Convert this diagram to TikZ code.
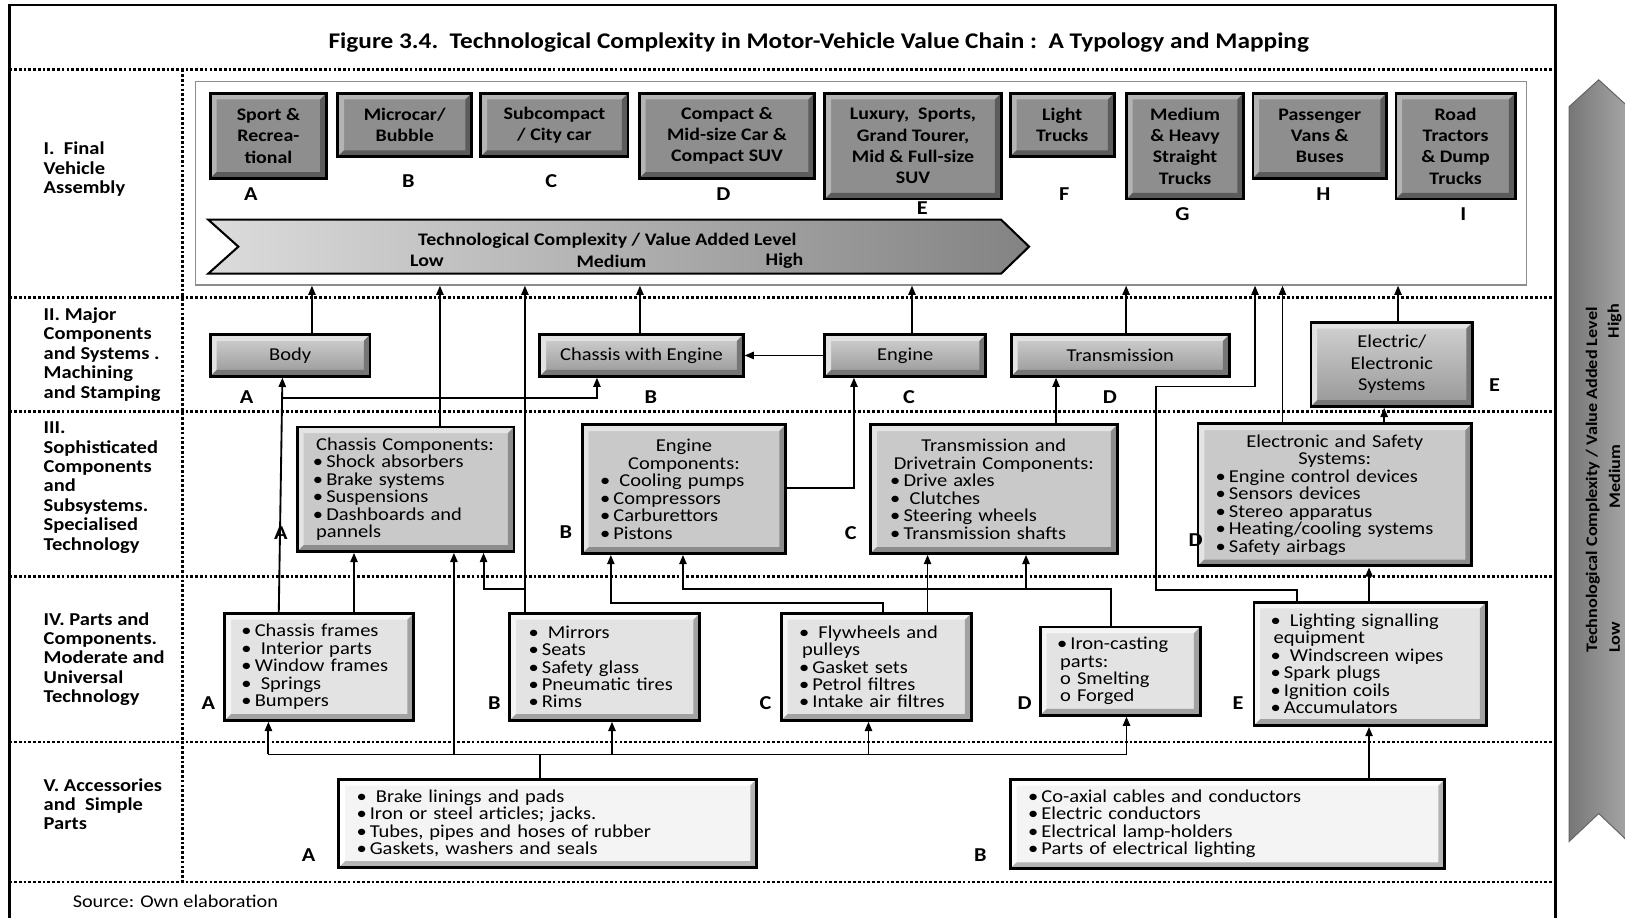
\documentclass[tikz,border=0pt]{standalone}
\usepackage{fontspec}
\setmainfont{Carlito}[FakeStretch=1.13]
\usetikzlibrary{arrows.meta}
\lineskiplimit=-100pt
\lineskip=0pt
\hyphenpenalty=10000
\exhyphenpenalty=10000
\newcommand\mc[1]{\noindent\hbox to\hsize{\hfil#1\hfil}}
\newcommand\bu{\noindent\kern-3pt•\kern3pt}
\definecolor{cIf}{HTML}{8E8E8E}
\definecolor{cIl}{HTML}{B4B4B4}
\definecolor{cId}{HTML}{5C5C5C}
\definecolor{cIIt}{HTML}{D2D2D2}
\definecolor{cIIb}{HTML}{979797}
\definecolor{cIIl}{HTML}{E2E2E2}
\definecolor{cIId}{HTML}{767676}
\definecolor{cIIIf}{HTML}{C9C9C9}
\definecolor{cIIIl}{HTML}{E4E4E4}
\definecolor{cIIId}{HTML}{8C8C8C}
\definecolor{cIVf}{HTML}{E3E3E3}
\definecolor{cIVl}{HTML}{F5F5F5}
\definecolor{cIVd}{HTML}{A2A2A2}
\definecolor{cVf}{HTML}{F4F4F4}
\definecolor{cVl}{HTML}{FFFFFF}
\definecolor{cVd}{HTML}{B4B4B4}
\definecolor{bnL}{HTML}{DCDCDC}
\definecolor{bnR}{HTML}{838383}
\definecolor{vaL}{HTML}{777777}
\definecolor{vaM}{HTML}{E6E6E6}
\definecolor{vaR}{HTML}{A6A6A6}
\tikzset{
  bevel/.style 2 args={path picture={
    \path (path picture bounding box.north west) coordinate (bnw)
          (path picture bounding box.north east) coordinate (bne)
          (path picture bounding box.south west) coordinate (bsw)
          (path picture bounding box.south east) coordinate (bse);
    \fill[#1] (bnw) -- (bne) -- ([shift={(-6pt,-6pt)}]bne) -- ([shift={(6pt,-6pt)}]bnw) -- ([shift={(6pt,6pt)}]bsw) -- (bsw) -- cycle;
    \fill[#2] (bse) -- (bsw) -- ([shift={(6pt,6pt)}]bsw) -- ([shift={(-6pt,6pt)}]bse) -- ([shift={(-6pt,-6pt)}]bne) -- (bne) -- cycle;
  }},
  bx/.style={draw=black, line width=2.8pt, inner sep=0pt},
  boxI/.style={bx, fill=cIf, bevel={cIl}{cId}, align=center, font=\bfseries\fontsize{17}{20.5}\selectfont},
  boxII/.style={bx, top color=cIIt, bottom color=cIIb, bevel={cIIl}{cIId}, align=center, font=\fontsize{17.5}{20.5}\selectfont},
  boxIII/.style={bx, fill=cIIIf, bevel={cIIIl}{cIIId}, align=left, font=\fontsize{17.5}{16.9}\selectfont},
  boxIV/.style={bx, fill=cIVf, bevel={cIVl}{cIVd}, align=left, font=\fontsize{17.5}{16.8}\selectfont},
  boxV/.style={bx, fill=cVf, bevel={cVl}{cVd}, align=left, font=\fontsize{17.5}{16.7}\selectfont},
  ttl/.style={font=\bfseries\fontsize{21.6}{24}\selectfont, inner sep=0pt},
  lett/.style={font=\bfseries\fontsize{19}{20}\selectfont, inner sep=0pt},
  rowlab/.style={font=\bfseries\fontsize{17.5}{18.7}\selectfont, align=left, anchor=west, inner sep=0pt},
  srcl/.style={font=\fontsize{17.3}{18}\selectfont, anchor=west, inner sep=0pt},
  bant/.style={font=\bfseries\fontsize{17}{18}\selectfont, inner sep=0pt},
  vtxt/.style={font=\bfseries\fontsize{15.5}{16}\selectfont, inner sep=0pt, rotate=90},
  dotl/.style={line width=2.6pt, dash pattern=on 2.6pt off 2pt},
  ln/.style={line width=1.8pt},
  arr/.style={line width=1.8pt, -{Triangle[length=9pt,width=7pt]}},
}
\begin{document}
\begin{tikzpicture}[x=1pt,y=-1pt]
\useasboundingbox (0,0) rectangle (1568,885);
\clip (0,0) rectangle (1568,885);
% dotted grid
\foreach \yy in {67,287,397,556,716,851} \draw[dotl] (9,\yy) -- (1501,\yy);
\draw[dotl] (176,67) -- (176,851);
% frame
\draw[line width=2.6pt] (9,895) -- (9,4.8) -- (1501,4.8) -- (1501,895);
% title
\node[ttl] (title) at (790,41.5) {Figure 3.4.\ \ Technological Complexity in Motor-Vehicle Value Chain :\ \ A Typology and Mapping};
% row labels
\node[rowlab] (lab1) at (42,163.5) {I.\ \ Final\\Vehicle\\Assembly};
\node[rowlab] (lab2) at (42,342) {II. Major\\Components\\and Systems .\\Machining\\and Stamping};
\node[rowlab] (lab3) at (42,470.5) {III.\\Sophisticated\\Components\\and\\Subsystems.\\Specialised\\Technology};
\node[rowlab] (lab4) at (42,636) {IV. Parts and\\Components.\\Moderate and\\Universal\\Technology};
\node[rowlab] (lab5) at (42,776) {V. Accessories\\and\ \ Simple\\Parts};
\node[srcl] (src) at (70,870) {Source: Own elaboration};
% final vehicle assembly area
\node[draw=black!45, line width=1.2pt, minimum width=1284pt, minimum height=196pt, inner sep=0pt] (fva) at (831,177) {};
\node[boxI, minimum width=112pt, minimum height=82pt] (vA) at (259,131) {Sport \&\\Recrea-\\tional};
\node[boxI, minimum width=129pt, minimum height=61pt] (vB) at (390.5,120.5) {Microcar/\\Bubble};
\node[boxI, minimum width=142pt, minimum height=61pt] (vC) at (535,120.5) {Subcompact\\/ City car};
\node[boxI, minimum width=169pt, minimum height=82pt] (vD) at (701.5,131) {Compact \&\\Mid-size Car \&\\Compact SUV};
\node[boxI, minimum width=170pt, minimum height=102pt] (vE) at (881,141) {Luxury,\ \ Sports,\\Grand Tourer,\\Mid \& Full-size\\SUV};
\node[boxI, minimum width=100pt, minimum height=61pt] (vF) at (1025,120.5) {Light\\Trucks};
\node[boxI, minimum width=113pt, minimum height=102pt] (vG) at (1143.5,141) {Medium\\\& Heavy\\Straight\\Trucks};
\node[boxI, minimum width=129pt, minimum height=82pt] (vH) at (1273.5,131) {Passenger\\Vans \&\\Buses};
\node[boxI, minimum width=115pt, minimum height=102pt] (vI) at (1404.5,141) {Road\\Tractors\\\& Dump\\Trucks};
\foreach \n/\xx/\yy in {A/242/187.5, B/394/175, C/532/175, D/698/187.5, E/890/201, F/1027/187.5, G/1141/207, H/1277/187.5, I/1412/207}
  \node[lett] (t\n) at (\xx,\yy) {\n};
% banner
\shade[left color=bnL, right color=bnR, draw=black, line width=2pt] (201,212) -- (966,212) -- (993,238) -- (966,264) -- (201,264) -- (230,238) -- cycle;
\node[bant] (bt) at (586,232) {Technological Complexity / Value Added Level};
\node[bant] (bl) at (412,252) {Low};
\node[bant] (bm) at (590,252) {Medium};
\node[bant] (bh) at (757,252) {High};
% row II
\node[boxII, minimum width=154pt, minimum height=40pt] (body) at (280,343) {Body};
\node[boxII, minimum width=196pt, minimum height=40pt] (cwe) at (619,343) {Chassis with Engine};
\node[boxII, minimum width=155pt, minimum height=40pt] (eng) at (873.5,343) {Engine};
\node[boxII, minimum width=210pt, minimum height=40pt] (trans) at (1081,343) {Transmission};
\node[boxII, minimum width=156pt, minimum height=81pt] (elec) at (1343,351.5) {Electric/\\Electronic\\Systems};
\foreach \n/\xx/\yy in {A/238/383.4, B/628/383, C/877/383, D/1071/383, E/1442/372}
  \node[lett] (s\n) at (\xx,\yy) {\n};
% row III
\node[boxIII, minimum width=209pt, minimum height=120pt, text width=173pt] (chc) at (391.5,472) {Chassis~Components:\\\bu Shock~absorbers\\\bu Brake~systems\\\bu Suspensions\\\bu Dashboards~and\\pannels};
\node[boxIII, minimum width=196pt, minimum height=124pt, text width=156pt] (enc) at (660,472) {\mc{Engine}\\\mc{Components:}\\\bu\ Cooling~pumps\\\bu Compressors\\\bu Carburettors\\\bu Pistons};
\node[boxIII, minimum width=238pt, minimum height=124pt, text width=194pt] (trc) at (959,472) {\mc{Transmission~and}\\\mc{Drivetrain~Components:}\\\bu Drive~axles\\\bu\ Clutches\\\bu Steering~wheels\\\bu Transmission~shafts};
\node[boxIII, minimum width=264pt, minimum height=137pt, text width=224pt] (esc) at (1288,477.5) {\mc{Electronic~and~Safety}\\\mc{Systems:}\\\bu Engine~control~devices\\\bu Sensors~devices\\\bu Stereo~apparatus\\\bu Heating/cooling~systems\\\bu Safety~airbags};
\foreach \n/\xx/\yy in {A/271/514, B/546/513, C/821/514, D/1153.7/521}
  \node[lett] (u\n) at (\xx,\yy) {\n};
% row IV
\node[boxIV, minimum width=182pt, minimum height=103pt, text width=144pt] (cf) at (308,643.5) {\bu Chassis~frames\\\bu\ Interior~parts\\\bu Window~frames\\\bu\ Springs\\\bu Bumpers};
\node[boxIV, minimum width=183pt, minimum height=103pt, text width=141pt] (mir) at (583.5,643.5) {\bu\ Mirrors\\\bu Seats\\\bu Safety~glass\\\bu Pneumatic~tires\\\bu Rims};
\node[boxIV, minimum width=183pt, minimum height=103pt, text width=143pt] (fly) at (845.5,643.5) {\bu\ Flywheels~and\\pulleys\\\bu Gasket~sets\\\bu Petrol~filtres\\\bu Intake~air~filtres};
\node[boxIV, minimum width=154pt, minimum height=85pt, text width=116pt] (iron) at (1081,647.5) {\bu Iron-casting\\parts:\\o~Smelting\\o~Forged};
\node[boxIV, minimum width=224pt, minimum height=119pt, text width=186pt] (light) at (1322,640.5) {\bu\ Lighting~signalling\\equipment\\\bu\ Windscreen~wipes\\\bu Spark~plugs\\\bu Ignition~coils\\\bu Accumulators};
\foreach \n/\xx/\yy in {A/201/678, B/477/678, C/738.7/678, D/988.6/678, E/1194.5/678}
  \node[lett] (w\n) at (\xx,\yy) {\n};
% row V
\node[boxV, minimum width=403pt, minimum height=85pt, text width=363pt] (va) at (528.5,794.5) {\bu\ Brake~linings~and~pads\\\bu Iron~or~steel~articles;~jacks.\\\bu Tubes,~pipes~and~hoses~of~rubber\\\bu Gaskets,~washers~and~seals};
\node[boxV, minimum width=419pt, minimum height=86pt, text width=379pt] (vb) at (1184.5,795) {\bu Co-axial~cables~and~conductors\\\bu Electric~conductors\\\bu Electrical~lamp-holders\\\bu Parts~of~electrical~lighting};
\node[lett] (xA) at (297.7,825) {A};
\node[lett] (xB) at (946,825) {B};
% vertical arrow
\shade[left color=vaL, middle color=vaM, right color=vaR, draw=black!60, line width=1pt] (1514,103) -- (1542.6,77) -- (1571,103) -- (1571,812) -- (1542.6,785) -- (1514,812) -- cycle;
\node[vtxt] (vt) at (1537,463) {Technological Complexity / Value Added Level};
\node[vtxt] (vh) at (1558,310) {High};
\node[vtxt] (vm) at (1558,460) {Medium};
\node[vtxt] (vl) at (1558,615) {Low};
% connectors into final assembly
\draw[arr] (301,0 |- body.north) -- (301,0 |- fva.south);
\draw[arr] (424.5,0 |- chc.north) -- (424.5,0 |- fva.south);
\draw[arr] (506.5,0 |- mir.north) -- (506.5,0 |- fva.south);
\draw[arr] (617.5,0 |- cwe.north) -- (617.5,0 |- fva.south);
\draw[arr] (880,0 |- eng.north) -- (880,0 |- fva.south);
\draw[arr] (1086.6,0 |- trans.north) -- (1086.6,0 |- fva.south);
\draw[arr] (1251.5,0 |- light.north) -- (1251.5,569) -- (1115.5,569) -- (1115.5,373) -- (1211,373) -- (1211,0 |- fva.south);
\draw[arr] (1237.5,0 |- esc.north) -- (1237.5,0 |- fva.south);
\draw[arr] (1349,0 |- elec.north) -- (1349,0 |- fva.south);
% row II internal
\draw[arr] (eng.west) -- (cwe.east);
\draw[arr] (269,0 |- cf.north) -- (272.5,0 |- body.south);
\coordinate (jA) at (272,384);
\draw[arr] (jA) -- (576,384) -- (576,0 |- cwe.south);
\draw[arr] (enc.east |- 0,471) -- (824,471) -- (824,0 |- eng.south);
\draw[arr] (1019,0 |- trc.north) -- (1019,0 |- trans.south);
\draw[arr] (1335.6,0 |- esc.north) -- (1335.6,0 |- elec.south);
% row IV to III
\draw[arr] (341.6,0 |- cf.north) -- (341.6,0 |- chc.south);
\coordinate (jB) at (506.5,568);
\draw[arr] (jB) -- (466.6,568) -- (466.6,0 |- chc.south);
\draw[arr] (852,0 |- fly.north) -- (852,581.5) -- (589.4,581.5) -- (589.4,0 |- enc.south);
\draw[arr] (895,0 |- fly.north) -- (895,0 |- trc.south);
\draw[arr] (1072,0 |- iron.north) -- (1072,568.6) -- (659,568.6) -- (659,0 |- enc.south);
\coordinate (jC) at (990,568.6);
\draw[arr] (jC) -- (990,0 |- trc.south);
\draw[arr] (1321,0 |- light.north) -- (1321,0 |- esc.south);
% row V to IV
\coordinate (bus) at (521,728);
\draw[ln] (521,0 |- va.north) -- (bus);
\draw[ln] (259,728) -- (1087,728);
\draw[arr] (259,728) -- (259,0 |- cf.south);
\draw[arr] (438,728) -- (438,0 |- chc.south);
\draw[arr] (590.5,728) -- (590.5,0 |- mir.south);
\draw[arr] (838,728) -- (838,0 |- fly.south);
\draw[arr] (1087,728) -- (1087,0 |- iron.south);
\draw[arr] (1321,0 |- vb.north) -- (1321,0 |- light.south);
\end{tikzpicture}
\end{document}
